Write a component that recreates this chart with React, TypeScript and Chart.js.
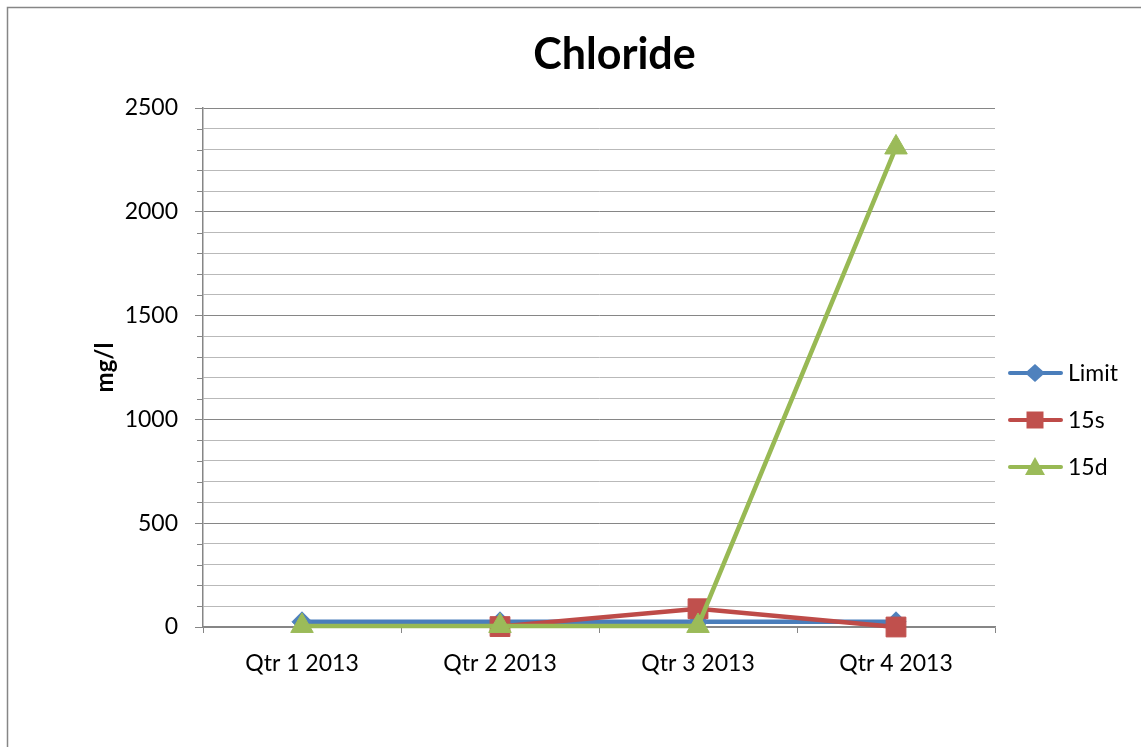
import React, { useEffect, useRef } from "react";
import { Chart, registerables } from "chart.js";

Chart.register(...registerables);

// Chloride readings per quarter (mg/l)
const categories = ["Qtr 1 2013", "Qtr 2 2013", "Qtr 3 2013", "Qtr 4 2013"];
const limitValues: number[] = [25, 25, 25, 25];
const values15s: (number | null)[] = [null, 2, 88, 0];
const values15d: number[] = [5, 5, 5, 2310];

const seriesNames = ["Limit", "15s", "15d"];
const lineColors = ["#4a7ebb", "#be4b48", "#98b954"];
const markerColors = ["#4f81bd", "#c0504d", "#9bbb59"];
const markerStyles = ["rectRot", "rect", "triangle"] as const;

const yMin = 0;
const yMax = 2500;
const yMajorStep = 500;
const yMinorStep = 100;

const chartTitle = "Chloride";
const yAxisTitle = "mg/l";

const FONT = "Lato, 'Open Sans', sans-serif";
const AXIS_GREY = "#868686";
const MINOR_GREY = "#b9b9b9";

function drawMarker(ctx: CanvasRenderingContext2D, style: string, x: number, y: number, r: number) {
  ctx.beginPath();
  if (style === "rectRot") {
    ctx.moveTo(x, y - r * 0.9);
    ctx.lineTo(x + r, y);
    ctx.lineTo(x, y + r * 0.9);
    ctx.lineTo(x - r, y);
  } else if (style === "rect") {
    ctx.rect(x - r * 0.85, y - r * 0.85, r * 1.7, r * 1.7);
  } else {
    ctx.moveTo(x, y - r);
    ctx.lineTo(x + r, y + r * 0.8);
    ctx.lineTo(x - r, y + r * 0.8);
  }
  ctx.closePath();
  ctx.fill();
}

const decorations = {
  id: "decorations",
  beforeDraw(chart: Chart) {
    const { ctx, width, height } = chart;
    ctx.save();
    ctx.fillStyle = "#ffffff";
    ctx.fillRect(0, 0, width, height);
    ctx.strokeStyle = AXIS_GREY;
    ctx.lineWidth = 1.5;
    ctx.strokeRect(7.5, 7.5, width + 20, height + 20);
    ctx.restore();
  },
  afterDraw(chart: Chart) {
    const { ctx, chartArea } = chart;
    const yScale = chart.scales.y;
    ctx.save();

    // minor tick marks on the value axis
    ctx.strokeStyle = AXIS_GREY;
    ctx.lineWidth = 1;
    for (let v = yMin; v <= yMax; v += yMinorStep) {
      if (v % yMajorStep === 0) continue;
      const py = Math.round(yScale.getPixelForValue(v)) + 0.5;
      ctx.beginPath();
      ctx.moveTo(chartArea.left - 6, py);
      ctx.lineTo(chartArea.left, py);
      ctx.stroke();
    }

    // title
    ctx.fillStyle = "#000000";
    ctx.font = `bold 43px ${FONT}`;
    ctx.textAlign = "center";
    ctx.textBaseline = "alphabetic";
    ctx.fillText(chartTitle, 614.5, 69);

    // value axis title
    ctx.save();
    ctx.translate(105, (chartArea.top + chartArea.bottom) / 2);
    ctx.rotate(-Math.PI / 2);
    ctx.font = `bold 24px ${FONT}`;
    ctx.textAlign = "center";
    ctx.textBaseline = "middle";
    ctx.fillText(yAxisTitle, 0, 0);
    ctx.restore();

    // legend
    const rowYs = [373, 420, 467];
    chart.data.datasets.forEach((ds: any, i: number) => {
      const y = rowYs[i];
      ctx.strokeStyle = lineColors[i];
      ctx.lineWidth = 4;
      ctx.lineCap = "round";
      ctx.beginPath();
      ctx.moveTo(1010, y);
      ctx.lineTo(1061, y);
      ctx.stroke();
      ctx.fillStyle = markerColors[i];
      drawMarker(ctx, markerStyles[i], 1035, y, 10);
      ctx.fillStyle = "#000000";
      ctx.font = `23px ${FONT}`;
      ctx.textAlign = "left";
      ctx.textBaseline = "middle";
      ctx.fillText(ds.label, 1068, y + 1);
    });

    ctx.restore();
  },
};

export default function App() {
  const canvasRef = useRef<HTMLCanvasElement | null>(null);

  useEffect(() => {
    const canvas = canvasRef.current;
    if (!canvas) return;

    const seriesData = [limitValues, values15s, values15d];
    const pointRadii = [10, 14, 13];

    const chart = new Chart(canvas, {
      type: "line",
      data: {
        labels: categories,
        datasets: seriesData.map((data, i) => ({
          label: seriesNames[i],
          data,
          borderColor: lineColors[i],
          backgroundColor: markerColors[i],
          borderWidth: 4.5,
          pointStyle: markerStyles[i],
          pointRadius: pointRadii[i],
          pointHoverRadius: pointRadii[i],
          pointBackgroundColor: markerColors[i],
          pointBorderColor: markerColors[i],
          pointBorderWidth: 1,
          tension: 0,
          spanGaps: false,
          clip: false,
          order: seriesData.length - 1 - i,
        })),
      },
      options: {
        responsive: false,
        animation: false,
        events: [],
        layout: {
          autoPadding: false,
          padding: { left: 0, top: 108, right: 146, bottom: 0 },
        },
        plugins: {
          legend: { display: false },
          title: { display: false },
          tooltip: { enabled: false },
        },
        scales: {
          x: {
            type: "category",
            offset: true,
            grid: {
              offset: true,
              drawOnChartArea: false,
              drawTicks: true,
              tickLength: 6,
              tickColor: AXIS_GREY,
            },
            border: { color: AXIS_GREY, width: 1.5 },
            ticks: {
              color: "#000000",
              font: { family: FONT, size: 23 },
              padding: 17,
              autoSkip: false,
              maxRotation: 0,
            },
            afterFit(scale: any) {
              scale.height = 120;
            },
          },
          y: {
            type: "linear",
            min: yMin,
            max: yMax,
            grid: {
              color: (c: any) => (c.tick && c.tick.value % yMajorStep === 0 ? AXIS_GREY : MINOR_GREY),
              tickColor: (c: any) => (c.tick && c.tick.value % yMajorStep === 0 ? AXIS_GREY : "rgba(0,0,0,0)"),
              tickLength: 8,
              lineWidth: 1,
            },
            border: { color: AXIS_GREY, width: 1.5 },
            ticks: {
              stepSize: yMinorStep,
              autoSkip: false,
              color: "#000000",
              font: { family: FONT, size: 23 },
              padding: 17,
              callback: (v: any) => (Number(v) % yMajorStep === 0 ? String(v) : ""),
            },
            afterFit(scale: any) {
              scale.width = 203;
            },
          },
        },
      },
      plugins: [decorations],
    });

    return () => chart.destroy();
  }, []);

  return (
    <div style={{ position: "fixed", left: 0, top: 0, width: 1141, height: 747 }}>
      <canvas ref={canvasRef} width={1141} height={747} style={{ display: "block" }} />
    </div>
  );
}
